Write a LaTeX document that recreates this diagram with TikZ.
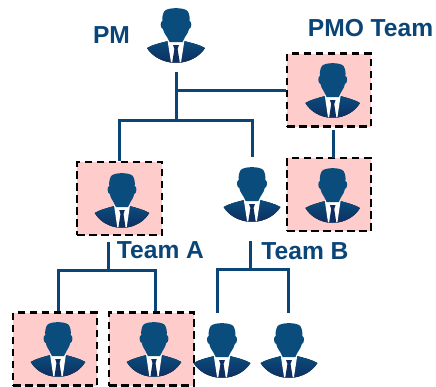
\documentclass[tikz,border=0pt]{standalone}
\usepackage{fontspec}
\setmainfont{Liberation Sans}
\definecolor{navy}{HTML}{0B4577}
\definecolor{icontop}{HTML}{0A4C7C}
\definecolor{iconbot}{HTML}{0E2F60}
\definecolor{pinkbox}{HTML}{FFCCCC}
\tikzset{
  x=1pt,y=-1pt,
  person/.pic={
    \fill[top color=icontop,bottom color=iconbot] (-8,33) .. controls (-16,35) and (-24,37) .. (-29,40)
      .. controls (-24,48) and (-14,54.5) .. (0,55) .. controls (14,54.5) and (24,48) .. (29,40)
      .. controls (24,37) and (16,35) .. (8,33) -- cycle;
    \fill[white] (-8.5,32) -- (-5,54.4) -- (5,54.4) -- (8.5,32) -- cycle;
    \fill[icontop] (-11.5,3) .. controls (-8,-0.8) and (8,-0.8) .. (11.5,3)
      .. controls (13.5,6) and (14,10) .. (13.5,13) .. controls (16,13) and (16,20.5) .. (13,21)
      .. controls (12,26) and (9,28) .. (7.5,32) -- (6.5,34) -- (-6.5,34) -- (-7.5,32)
      .. controls (-9,28) and (-12,26) .. (-13,21) .. controls (-16,20.5) and (-16,13) .. (-13.5,13)
      .. controls (-14,10) and (-13.5,6) .. (-11.5,3) -- cycle;
    \fill[iconbot] (-3,37) -- (3,37) -- (1.6,41) -- (3.8,54.6) -- (-3.8,54.6) -- (-1.6,41) -- cycle;
  },
  redbox/.style={draw=black,fill=pinkbox,line width=2.2pt,dash pattern=on 7.5pt off 4.5pt,
    rectangle,inner sep=0pt,minimum width=#1,minimum height=73pt},
  redbox/.default=83.5pt,
  link/.style={draw=navy,line width=3pt},
  label/.style={text=navy,font=\fontsize{24.6}{27}\selectfont\bfseries,inner sep=0pt,anchor=center},
  slot/.style={inner sep=0pt,minimum size=1pt}
}
\begin{document}
\begin{tikzpicture}
\useasboundingbox (0,0) rectangle (436,386);
% dashed boxes
\node[redbox] (pmoa) at (329,90) {};
\node[redbox] (pmob) at (329,194.5) {};
\node[redbox=85pt] (lead) at (119.5,198.5) {};
\node[redbox] (aone) at (55,349) {};
\node[redbox=85pt] (atwo) at (151.5,349) {};
% free people
\node[slot] (pm) at (176,36) {};
\node[slot] (blead) at (252,195) {};
\node[slot] (bone) at (222,350) {};
\node[slot] (btwo) at (289,350) {};
% icons
\pic at (176,8) {person};
\pic[xscale=.94] at (332.7,63) {person};
\pic[xscale=.94] at (332.7,168) {person};
\pic[xscale=.94] at (122,173) {person};
\pic[xscale=.94] at (58,322) {person};
\pic[xscale=.94] at (154,322) {person};
\pic[xscale=.98] at (252,167) {person};
\pic[xscale=.98] at (222,323) {person};
\pic[xscale=.98] at (289,323) {person};
% labels
\node[label] (pmtext) at (111.5,35) {PM};
\node[label] (pmotext) at (370.5,28) {PMO Team};
\node[label] (atext) at (160.5,250) {Team A};
\node[label] (btext) at (305,251) {Team B};
% junctions and free ends
\coordinate (pmfoot) at (176.3,72);
\coordinate (pmj) at (176.3,90.5);
\coordinate (mainj) at (176.3,120);
\coordinate (maina) at (119.3,120);
\coordinate (mainb) at (252.3,120);
\coordinate (mainbend) at (252.3,157);
\coordinate (pmotop) at (333,130);
\coordinate (pmobot) at (333,157.5);
\coordinate (afoot) at (108.5,242);
\coordinate (aj) at (108.5,270.7);
\coordinate (aleft) at (58.5,270.7);
\coordinate (aright) at (155,270.7);
\coordinate (bfoot) at (250.7,241);
\coordinate (bj) at (250.7,269);
\coordinate (bleft) at (217.3,269);
\coordinate (bright) at (288.3,269);
\coordinate (bleftend) at (217.3,313);
\coordinate (brightend) at (288.3,313);
% connectors
\draw[link] (pmfoot) -- (mainj);
\draw[link] (pmj) -- (pmj -| pmoa.west);
\draw[link] (maina |- lead.north) -- (maina) -- (mainb) -- (mainbend);
\draw[link] (pmotop) -- (pmobot);
\draw[link] (afoot) -- (aj);
\draw[link] (aleft |- aone.north) -- (aleft) -- (aright) -- (aright |- atwo.north);
\draw[link] (bfoot) -- (bj);
\draw[link] (bleftend) -- (bleft) -- (bright) -- (brightend);
\end{tikzpicture}
\end{document}
